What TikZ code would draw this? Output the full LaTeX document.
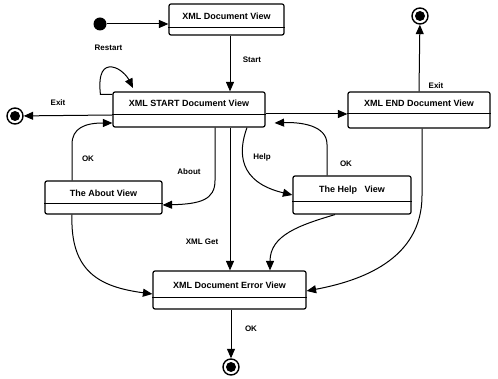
\documentclass[tikz,border=0pt]{standalone}
\usepackage{fontspec}
\setmainfont{Liberation Sans}
\usetikzlibrary{arrows.meta}
\begin{document}
\begin{tikzpicture}[x=1pt,y=-1pt,
  statebox/.style={draw, line width=1.2pt, rounded corners=2pt, inner sep=0pt},
  boxtext/.style={font=\fontsize{9}{11}\selectfont\bfseries, inner sep=0pt},
  lbl/.style={font=\fontsize{8}{10}\selectfont\bfseries, inner sep=0pt},
  flow/.style={line width=1pt, -{Triangle[length=9.5pt,width=8pt]}},
  divider/.style={line width=1pt},
  initstate/.style={circle, fill, minimum size=13pt, inner sep=0pt},
  endstate/.style={circle, draw, line width=1.4pt, minimum size=16pt, inner sep=0pt,
    path picture={\fill (path picture bounding box.center) circle (5pt);}}]
\useasboundingbox (0,0) rectangle (498,379);

% states
\node[statebox, minimum width=115pt, minimum height=31pt] (b1) at (226.5,19.5) {};
\node[boxtext] (t1) at (226.5,16) {XML Document View};
\draw[divider] ([yshift=8pt]b1.south west) -- ([yshift=8pt]b1.south east);

\node[statebox, minimum width=152pt, minimum height=35pt] (b2) at (189,109.5) {};
\node[boxtext] (t2) at (189,103.5) {XML START Document View};
\draw[divider] ([yshift=13pt]b2.south west) -- ([yshift=13pt]b2.south east);

\node[statebox, minimum width=142pt, minimum height=36pt] (b3) at (419,110) {};
\node[boxtext] (t3) at (419,103) {XML END Document View};
\draw[divider] ([yshift=15pt]b3.south west) -- ([yshift=15pt]b3.south east);

\node[statebox, minimum width=117pt, minimum height=33pt] (b4) at (103.5,197.5) {};
\node[boxtext] (t4) at (103.5,193) {The About View};
\draw[divider] ([yshift=11pt]b4.south west) -- ([yshift=11pt]b4.south east);

\node[statebox, minimum width=118pt, minimum height=38pt] (b5) at (352,195) {};
\node[boxtext] (t5) at (352,190) {The Help\ \ \ View};
\draw[divider] ([yshift=13pt]b5.south west) -- ([yshift=13pt]b5.south east);

\node[statebox, minimum width=153pt, minimum height=38pt] (b6) at (229.5,290) {};
\node[boxtext] (t6) at (229.5,285) {XML Document Error View};
\draw[divider] ([yshift=12pt]b6.south west) -- ([yshift=12pt]b6.south east);

% pseudo states
\node[initstate] (init) at (100,24) {};
\node[endstate] (fl) at (15,116) {};
\node[endstate] (ft) at (420,16) {};
\node[endstate] (fb) at (231,367) {};

% transitions
\draw[flow] (init) -- (init -| b1.west);
\draw[flow] ([xshift=3.5pt]b1.south) -- ([xshift=3.5pt]b1.south |- b2.north);
\draw[flow] ([yshift=-3pt]b2.north west) -- ++(-12,0)
  .. controls (98,72) and (104,66) .. (112,67)
  .. controls (120,68) and (127,76) .. (133,88);
\draw[flow] ([yshift=-5.5pt]b2.west) -- (fl);
\draw[flow] ([xshift=-31.5pt]b4.north) -- ++(0,-36)
  .. controls (72,128) and (85,123) .. ([yshift=-13.5pt]b2.west);
\draw[flow] ([xshift=26pt]b2.south) -- ++(0,53)
  .. controls (215,200) and (200,204) .. ([yshift=-7.5pt]b4.east);
\draw[flow] ([xshift=41pt]b2.south) -- ([xshift=41pt]b2.south |- b6.north);
\draw[flow] ([xshift=58pt]b2.south)
  .. controls (238,152) and (238,182) .. (b5.west);
\draw[flow] ([xshift=-25pt]b5.north) -- ++(0,-31)
  .. controls (327,125) and (300,122) .. ([xshift=9pt,yshift=-13.5pt]b2.east);
\draw[flow] ([yshift=-4.5pt]b2.east) -- ([yshift=-4pt]b3.west);
\draw[flow] (b3.north) -- (ft);
\draw[flow] ([xshift=3pt]b3.south) -- ++(0,67)
  .. controls (422,260) and (360,281) .. ([yshift=-1pt]b6.east);
\draw[flow] ([xshift=-17pt]b5.south)
  .. controls (300,225) and (270,235) .. ([xshift=40.5pt]b6.north);
\draw[flow] ([xshift=-31.5pt]b4.south)
  .. controls (70,272) and (100,287) .. ([yshift=-4pt]b6.west);
\draw[flow] ([xshift=1.5pt]b6.south) -- (fb);

% transition labels
\node[lbl] (lrestart) at (108.5,48) {Restart};
\node[lbl] (lstart) at (252,60) {Start};
\node[lbl] (lexitl) at (58,103) {Exit};
\node[lbl] (lokl) at (88,159) {OK};
\node[lbl] (labout) at (189,172) {About};
\node[lbl] (lget) at (202,242) {XML Get};
\node[lbl] (lhelp) at (262,157) {Help};
\node[lbl] (lokh) at (346,164) {OK};
\node[lbl] (lexitr) at (436,86) {Exit};
\node[lbl] (lokb) at (251,329) {OK};
\end{tikzpicture}
\end{document}
